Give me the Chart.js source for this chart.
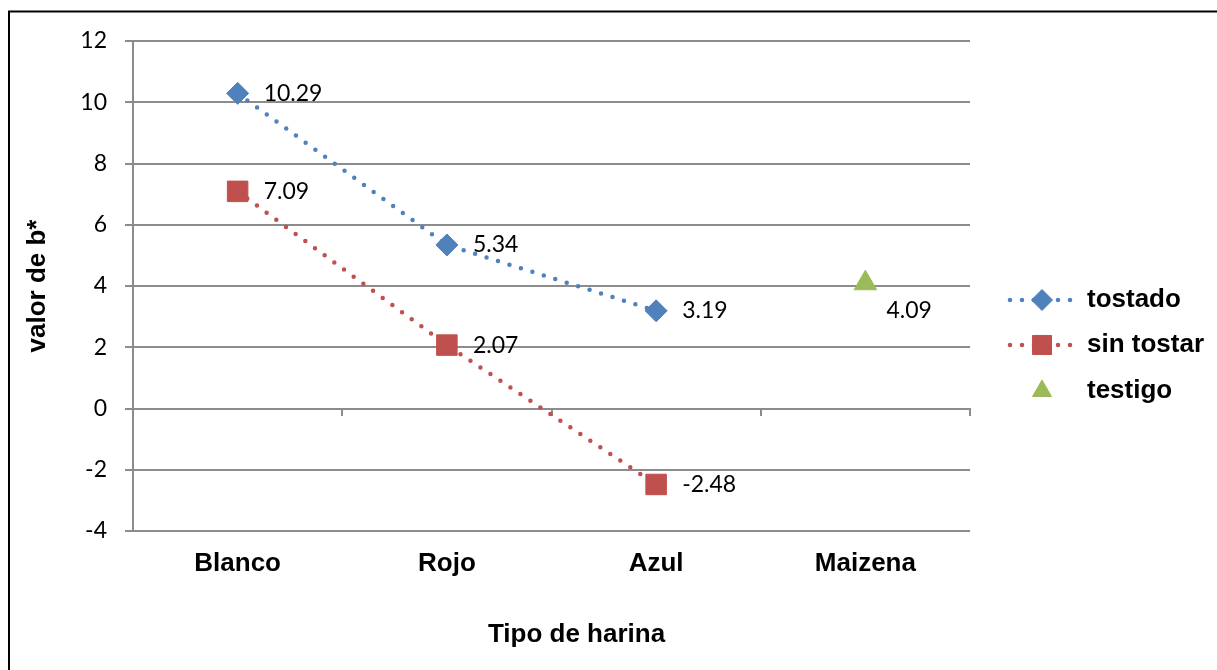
<!DOCTYPE html>
<html><head><meta charset="utf-8">
<script src="https://cdn.jsdelivr.net/npm/chart.js@4.4.1/dist/chart.umd.min.js"></script>
<style>html,body{margin:0;padding:0;background:#fff;} canvas{display:block}</style>
</head><body>
<canvas id="c" width="1217" height="670"></canvas>
<script>
// ---- data ----
const categories = ['Blanco', 'Rojo', 'Azul', 'Maizena'];
const tostado = [10.29, 5.34, 3.19, null];
const sinTostar = [7.09, 2.07, -2.48, null];
const testigo = [null, null, null, 4.09];
const seriesNames = ['tostado', 'sin tostar', 'testigo'];
const yTicks = [-4, -2, 0, 2, 4, 6, 8, 10, 12];
const xTitle = 'Tipo de harina';
const yTitle = 'valor de b*';

// ---- style ----
const BLUE = '#4F81BD', RED = '#C0504D', GREEN = '#9BBB59', GRID = '#8c8c8c';
const boldFont = '"Liberation Sans", Arial, sans-serif';
const numFont = 'Lato, "Open Sans", sans-serif';
const DOT = [0, 12];
const labelOffsets = [{x: 26, y: 0}, {x: 26, y: 0}, {x: 21, y: 27}];
const legendMarkers = [
  {pointStyle: 'rectRot', radius: 10.5, color: BLUE, line: true},
  {pointStyle: 'rect', radius: 13.5, color: RED, line: true},
  {pointStyle: 'triangle', radius: 11, color: GREEN, line: false}
];

const framePlugin = {
  id: 'frame',
  beforeDraw(chart) {
    const ctx = chart.ctx;
    ctx.save();
    ctx.fillStyle = '#fff';
    ctx.fillRect(0, 0, chart.width, chart.height);
    ctx.strokeStyle = '#000';
    ctx.lineWidth = 2;
    ctx.strokeRect(9, 11.5, chart.width + 20, chart.height + 20);
    ctx.restore();
  }
};

const valueLabels = {
  id: 'valueLabels',
  afterDatasetsDraw(chart) {
    const ctx = chart.ctx;
    ctx.save();
    ctx.font = '23px ' + numFont;
    ctx.fillStyle = '#000';
    ctx.textAlign = 'left';
    ctx.textBaseline = 'middle';
    chart.data.datasets.forEach((ds, i) => {
      const meta = chart.getDatasetMeta(i);
      const off = labelOffsets[i];
      meta.data.forEach((pt, j) => {
        const v = ds.data[j];
        if (v === null || v === undefined) return;
        ctx.fillText(v.toFixed(2), pt.x + off.x, pt.y + off.y);
      });
    });
    ctx.restore();
  }
};

function drawMarker(ctx, m, x, y) {
  if (Chart.helpers && Chart.helpers.drawPoint) {
    ctx.fillStyle = m.color; ctx.strokeStyle = m.color; ctx.lineWidth = 1;
    Chart.helpers.drawPoint(ctx, {pointStyle: m.pointStyle, radius: m.radius, rotation: 0, borderWidth: 1}, x, y);
  }
}

const customLegend = {
  id: 'customLegend',
  afterDraw(chart) {
    const ctx = chart.ctx;
    const a = chart.chartArea;
    const x0 = a.right + 39;
    const rowY = [a.top + 259, a.top + 304, a.top + 350];
    ctx.save();
    chart.data.datasets.forEach((ds, i) => {
      const m = legendMarkers[i];
      const y = rowY[i];
      if (m.line) {
        ctx.save();
        ctx.strokeStyle = m.color;
        ctx.lineWidth = 4.5;
        ctx.lineCap = 'round';
        ctx.setLineDash(DOT);
        ctx.beginPath();
        ctx.moveTo(x0 + 1, y);
        ctx.lineTo(x0 + 66, y);
        ctx.stroke();
        ctx.restore();
      }
      drawMarker(ctx, m, x0 + 33, y);
      ctx.fillStyle = '#000';
      ctx.font = 'bold 26px ' + boldFont;
      ctx.textAlign = 'left';
      ctx.textBaseline = 'middle';
      ctx.fillText(ds.label, x0 + 78, y);
    });
    ctx.restore();
  }
};

const xTitlePlugin = {
  id: 'xTitlePlugin',
  afterDraw(chart) {
    const ctx = chart.ctx;
    const a = chart.chartArea;
    ctx.save();
    ctx.fillStyle = '#000';
    ctx.font = 'bold 26px ' + boldFont;
    ctx.textAlign = 'center';
    ctx.textBaseline = 'middle';
    ctx.fillText(xTitle, (a.left + a.right) / 2 + 25, a.bottom + 104);
    ctx.restore();
  }
};

const lineStyle = (color) => ({
  borderColor: color,
  backgroundColor: color,
  pointBackgroundColor: color,
  pointBorderColor: color,
  borderWidth: 4.5,
  borderDash: DOT,
  borderCapStyle: 'round',
  pointBorderWidth: 1,
  spanGaps: false,
  tension: 0,
  fill: false
});

new Chart(document.getElementById('c'), {
  type: 'line',
  data: {
    labels: categories,
    datasets: [
      Object.assign({label: seriesNames[0], data: tostado, pointStyle: 'rectRot', pointRadius: 11, pointHoverRadius: 11}, lineStyle(BLUE)),
      Object.assign({label: seriesNames[1], data: sinTostar, pointStyle: 'rect', pointRadius: 14.5, pointHoverRadius: 14.5}, lineStyle(RED)),
      Object.assign({label: seriesNames[2], data: testigo, pointStyle: 'triangle', pointRadius: 13, pointHoverRadius: 13, showLine: false}, lineStyle(GREEN))
    ]
  },
  options: {
    responsive: false,
    animation: false,
    devicePixelRatio: 1,
    layout: {padding: {left: 22, right: 247, top: 41, bottom: 0}},
    plugins: {legend: {display: false}, tooltip: {enabled: false}, title: {display: false}},
    scales: {
      y: {
        min: yTicks[0], max: yTicks[yTicks.length - 1],
        afterBuildTicks: (s) => { s.ticks = yTicks.map(v => ({value: v})); },
        afterFit: (s) => { s.width = 111; },
        ticks: {
          font: {family: numFont, size: 23}, color: '#000', padding: 18,
          callback: (v) => String(v)
        },
        grid: {color: GRID, lineWidth: 2, tickLength: 8, drawTicks: true},
        border: {display: true, color: GRID, width: 2},
        title: {display: true, text: yTitle, color: '#000', font: {family: boldFont, size: 26, weight: 'bold'}, padding: {top: 0, bottom: 0}}
      },
      x: {
        type: 'category',
        offset: true,
        afterFit: (s) => { s.height = 139; },
        grid: {display: false, drawTicks: false},
        border: {display: false},
        ticks: {font: {family: boldFont, size: 26, weight: 'bold'}, color: '#000', padding: 17, maxRotation: 0}
      },
      x0: {
        type: 'category',
        axis: 'x',
        position: {y: 0},
        offset: true,
        grid: {offset: true, drawOnChartArea: false, drawTicks: true, tickLength: 6, color: GRID, lineWidth: 2},
        border: {display: true, color: GRID, width: 2},
        ticks: {display: false}
      }
    }
  },
  plugins: [framePlugin, valueLabels, customLegend, xTitlePlugin]
});
</script>
</body></html>
